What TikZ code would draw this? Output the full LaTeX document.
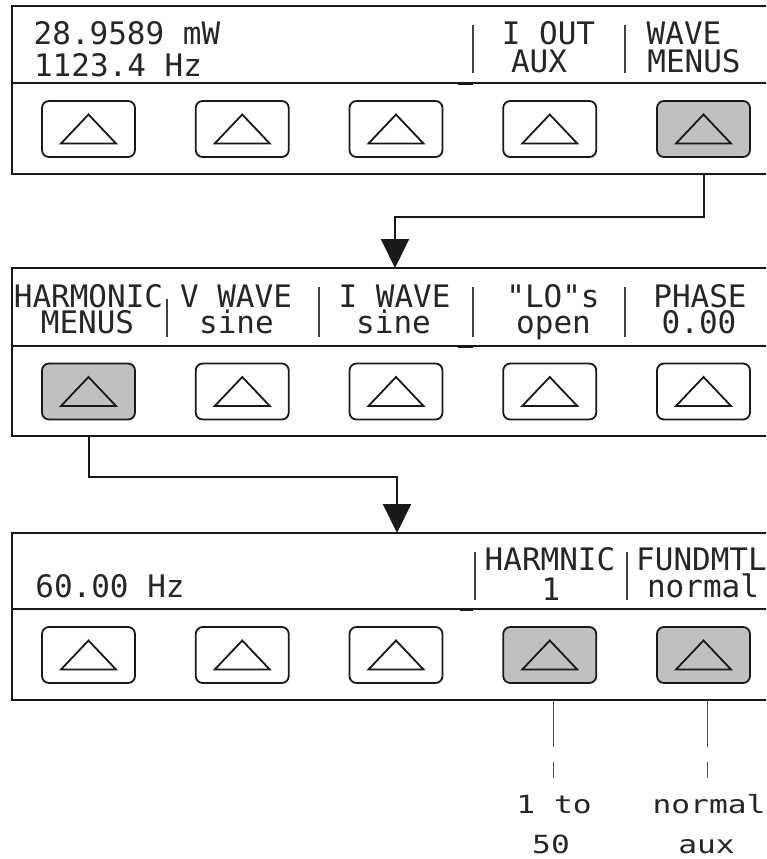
\documentclass[tikz,border=0pt]{standalone}
\usepackage{fontspec}
\newfontfamily\lcd[Ligatures=TeXOff]{DejaVu Sans Mono}
\newfontfamily\lcdw[Ligatures=TeXOff,FakeStretch=1.25]{DejaVu Sans Mono}
\usetikzlibrary{arrows.meta}
\definecolor{keygray}{RGB}{192,192,192}
\definecolor{ink}{RGB}{25,25,25}
\begin{document}
\begin{tikzpicture}[x=1pt,y=-1pt,
  panel/.style={draw=ink, line width=2pt, anchor=north west, minimum width=790pt,
    minimum height=168pt, inner sep=0pt, outer sep=0pt},
  btn/.style={draw=ink, line width=1.8pt, rounded corners=7pt, minimum width=93pt,
    minimum height=56pt, inner sep=0pt, outer sep=0pt},
  keytri/.style={draw=ink, line width=1.8pt, line join=miter},
  conn/.style={draw=ink, line width=2pt},
  bar/.style={draw=black!75, line width=2.6pt},
  tick/.style={draw=ink, line width=3pt},
  divider/.style={draw=ink, line width=2pt},
  leader/.style={draw=black!70, line width=0.9pt},
  lcdtxt/.style={inner sep=0pt, anchor=base, text=black!85, text height=22pt, text depth=0pt,
    font=\lcd\fontsize{31pt}{31pt}\selectfont},
  lcdlab/.style={inner sep=0pt, anchor=base, text=black!85, text height=18pt, text depth=0pt,
    font=\lcdw\fontsize{25pt}{25pt}\selectfont},
  tipbig/.style={-{Triangle[width=28pt,length=29pt]}}
]
\useasboundingbox (0,0) rectangle (766,859);
\fill[white] (0,0) rectangle (766,859);
\clip (0,0) rectangle (766,859);

% ---------- panels ----------
\node[panel] (P1) at (12,6) {};
\node[panel] (P2) at (12,268) {};
\node[panel, minimum height=167pt] (P3) at (12,533) {};

\draw[divider] (12,83) -- (805,83);
\draw[divider] (12,346) -- (805,346);
\draw[divider] (12,609) -- (805,609);

\draw[tick] (458,83) -- (473,83);
\draw[tick] (458,346) -- (473,346);
\draw[tick] (460,609) -- (473,609);

% ---------- buttons ----------
\foreach \row/\y/\fa/\fb/\fc/\fd/\fe in {1/129/white/white/white/white/keygray,
                                          2/391.5/keygray/white/white/white/white,
                                          3/655/white/white/white/keygray/keygray}{
  \foreach \i/\x/\f in {1/88.5/\fa, 2/242.25/\fb, 3/396/\fc, 4/549.75/\fd, 5/703.5/\fe}{
    \node[btn, fill=\f] (b\row\i) at (\x,\y) {};
    \draw[keytri] ([shift={(0,-14.5)}]b\row\i.center) -- ([shift={(-27.5,14.5)}]b\row\i.center)
      -- ([shift={(27.5,14.5)}]b\row\i.center) -- cycle;
  }
}

% ---------- top panel texts ----------
\node[lcdtxt] (t11) at (127,45) {28.9589 mW};
\node[lcdtxt] (t12) at (118,77) {1123.4 Hz};
\node[lcdtxt] (t13) at (548.5,45) {I OUT};
\node[lcdtxt] (t14) at (539,72) {AUX};
\node[lcdtxt] (t15) at (684,45) {WAVE};
\node[lcdtxt] (t16) at (694,72) {MENUS};
\draw[bar] (473,25) -- (473,73);
\draw[bar] (625,25) -- (625,73);

% ---------- middle panel texts ----------
\node[lcdtxt] (t21) at (88.5,307) {HARMONIC};
\node[lcdtxt] (t22) at (87.5,333) {MENUS};
\node[lcdtxt] (t23) at (236,307) {V WAVE};
\node[lcdtxt] (t24) at (236.5,333) {sine};
\node[lcdtxt] (t25) at (394.5,307) {I WAVE};
\node[lcdtxt] (t26) at (393.5,333) {sine};
\node[lcdtxt] (t27) at (553,307) {"LO"s};
\node[lcdtxt] (t28) at (553.5,333) {open};
\node[lcdtxt] (t29) at (700,307) {PHASE};
\node[lcdtxt] (t2a) at (699,333) {0.00};
\draw[bar] (167,299) -- (167,337);
\draw[bar] (319,287) -- (319,337);
\draw[bar] (473,287) -- (473,337);
\draw[bar] (625,287) -- (625,337);

% ---------- bottom panel texts ----------
\node[lcdtxt] (t31) at (110,597) {60.00 Hz};
\node[lcdtxt] (t32) at (550,570) {HARMNIC};
\node[lcdtxt] (t33) at (551,600) {1};
\node[lcdtxt] (t34) at (701.5,570) {FUNDMTL};
\node[lcdtxt] (t35) at (703,597) {normal};
\draw[bar] (475,552) -- (475,600);
\draw[bar] (627,552) -- (627,600);

% ---------- connectors ----------
\coordinate (h1) at (0,217);
\coordinate (v1) at (395,0);
\draw[conn, tipbig] (P1.south -| b15) -- (b15 |- h1) -- (v1 |- h1) -- (P2.north -| v1);

\coordinate (h2) at (0,477);
\coordinate (v2) at (397,0);
\draw[conn, tipbig] (P2.south -| b21) -- (b21 |- h2) -- (v2 |- h2) -- (P3.north -| v2);

% ---------- leaders and value labels ----------
\coordinate (l1a) at (553,747);
\coordinate (l1b) at (553,762);
\coordinate (l1c) at (553,778);
\coordinate (l2a) at (707,747);
\coordinate (l2b) at (707,762);
\coordinate (l2c) at (707,778);
\draw[leader] (P3.south -| l1a) -- (l1a);
\draw[leader] (l1b) -- (l1c);
\draw[leader] (P3.south -| l2a) -- (l2a);
\draw[leader] (l2b) -- (l2c);

\node[lcdlab] (lab1) at (554,813) {1 to};
\node[lcdlab] (lab2) at (551,853) {50};
\node[lcdlab] (lab3) at (709,813) {normal};
\node[lcdlab] (lab4) at (706.5,853) {aux};
\end{tikzpicture}
\end{document}
